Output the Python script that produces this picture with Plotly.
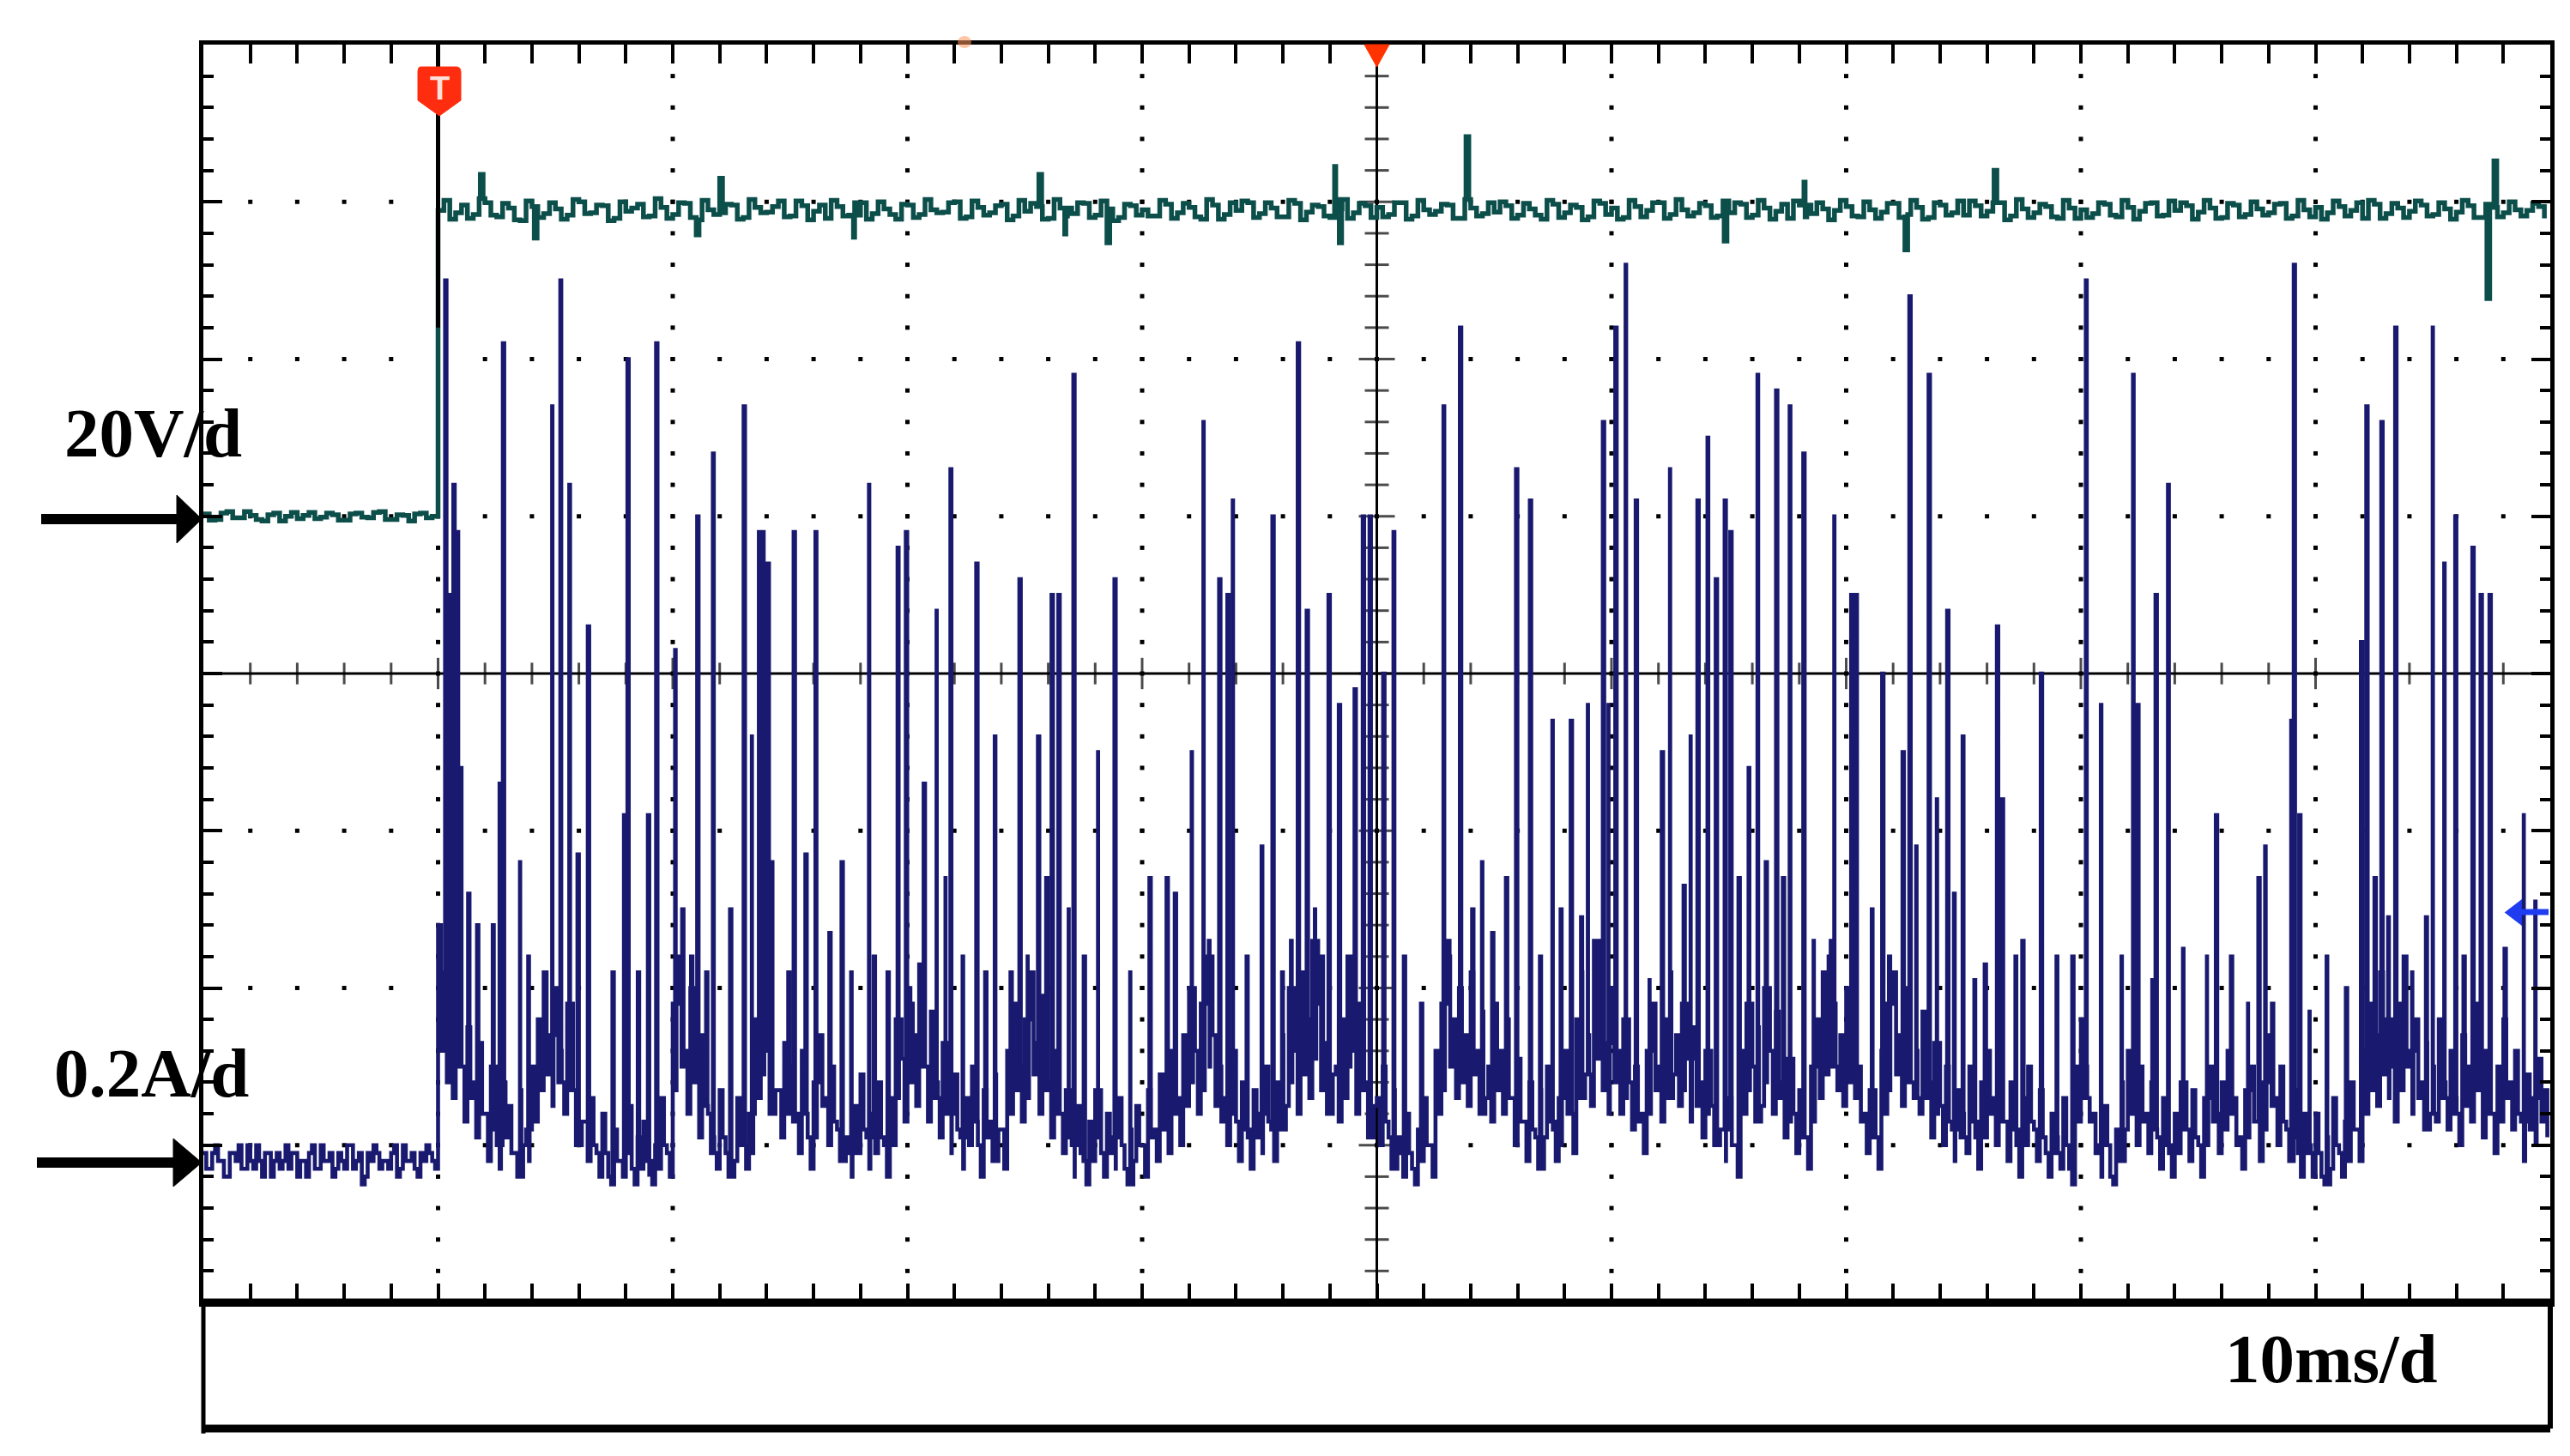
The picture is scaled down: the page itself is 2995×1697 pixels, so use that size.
import plotly.graph_objects as go

# ---------------- scope settings ----------------
T_START, T_END = -10.0, 90.0          # ms (trigger at 0)
MS_PER_DIV = 10
V_PER_DIV = 20
A_PER_DIV = 0.2
V_GROUND_DIV = 1.0
A_GROUND_DIV = -3.1
CUR_STEP_MS = 0.25      # spacing of each typed current list (second list offset by half a step)
VOLT_STEP_MS = 0.5
SPIKE_W_MS = 0.06

# ---------------- data ----------------
# current samples, units of 0.01 A, before trigger (-10..0 ms)
cur_pre_cA = [1, -1, 2, 0, -2, 1, 2, -1, 0, 2, -2, 1, 0, -1, 2, 1, -2, 0, 1, -1,
              2, 0, -2, 1, -1, 2, 0, -3, 1, 2, -1, 0, 1, -2, 2, 0, -1, 1, 2, 0]
cur_pre_mid_cA = [-1, 1, 0, -2, 1, 0, -1, 2, -1, 0, 1, -2, 1, 0, -1, 1, 0, -2, 2, -1,
                  0, 1, -1, 0, 2, -1, 1, -2, 0, 1, 0, -1, 2, -1, 0, 1, -2, 0, 1, -1]
# current samples after trigger (0..90 ms), units of 0.01 A
cur_post_cA = [
    30, 24, 18, 26, 12, 17, 10, 15, 6, 12, 2, 10, 7, 1, 9, 4, 12, 18, 24, 16,
    22, 14, 20, 9, 13, 5, 8, 1, 6, -2, 4, 0, 7, -1, 3, 5, -2, 2, 8, 1,
    20, 26, 14, 22, 10, 16, 6, 3, 9, 1, 5, 8, 2, 6, 18, 24, 14, 20, 9, 15,
    12, 6, 14, 3, 10, 16, 8, 12, 4, 9, 1, 7, 11, 3, 6, 10, 2, 8, 18, 13,
    22, 16, 25, 12, 19, 10, 15, 6, 11, 3, 8, 12, 2, 9, 5, 11, 4, 14, 20, 12,
    18, 24, 15, 21, 10, 14, 6, 9, 2, 7, 0, 5, 9, 1, 6, 3, 8, -1, 4, 7,
    2, 9, 4, 11, 6, 14, 8, 16, 22, 14, 20, 26, 16, 12, 8, 14, 5, 10, 3, 9,
    6, 12, 4, 10, 16, 22, 14, 24, 18, 28, 20, 15, 24, 12, 18, 26, 14, 20, 10, 16,
    8, 12, 3, 9, 1, 6, -1, 4, 8, 2, 14, 20, 26, 18, 22, 16, 24, 14, 19, 12,
    20, 14, 18, 8, 13, 5, 10, 3, 9, 12, 4, 8, 14, 6, 18, 24, 16, 28, 20, 15,
    22, 14, 18, 10, 12, 6, 14, 20, 12, 18, 24, 16, 20, 13, 17, 10, 14, 7, 11, 4,
    8, 2, 14, 20, 12, 17, 22, 14, 19, 10, 13, 6, 9, 3, 12, 18, 24, 26, 20, 16,
    22, 18, 12, 6, 9, 3, 14, 20, 24, 16, 22, 18, 14, 19, 10, 15, 7, 12, 4, 9,
    6, 12, 3, 10, 14, 8, 13, 5, 10, 2, 8, 12, 4, 9, 1, 6, 3, 8, -1, 12,
    18, 12, 6, 2, 7, -2, 4, 10, 14, 8, 12, 6, 10, 3, 8, 1, 6, 10, 4, 9,
    2, 8, 12, 6, 10, 14, 8, 3, 9, 12, 5, 10, 16, 8, 12, 4, 9, 1, 6, 2,
    6, -2, 3, 8, 1, 5, 10, 4, 14, 20, 16, 24, 18, 12, 20, 26, 14, 18, 10, 15,
    12, 18, 10, 14, 8, 16, 12, 20, 9, 14, 6, 12, 18, 10, 14, 5, 11, 8, 13, 9,
]
cur_post_mid_cA = [
    14, 10, 8, 12, 5, 8, 3, 6, 0, 4, -1, 3, 1, -2, 2, 0, 5, 9, 11, 7,
    10, 6, 9, 2, 5, 0, 2, -2, 1, -3, 0, -2, 1, -3, -1, 0, -3, -1, 2, -2,
    9, 12, 6, 10, 3, 7, 1, -1, 3, -2, 0, 2, -1, 1, 8, 11, 6, 9, 3, 6,
    5, 1, 6, -1, 3, 7, 2, 5, 0, 3, -2, 1, 4, -1, 1, 3, -2, 2, 8, 5,
    10, 7, 12, 5, 8, 3, 6, 1, 4, -1, 2, 5, -2, 3, 0, 4, -1, 6, 9, 5,
    8, 11, 6, 9, 3, 6, 1, 3, -2, 1, -3, 0, 3, -2, 1, -1, 2, -3, 0, 2,
    -2, 3, 0, 4, 1, 6, 2, 7, 10, 6, 9, 12, 7, 5, 2, 6, 0, 4, -1, 3,
    1, 5, 0, 4, 7, 10, 6, 11, 8, 13, 9, 6, 11, 5, 8, 12, 6, 9, 3, 7,
    2, 5, -1, 3, -2, 1, -3, 0, 2, -2, 6, 9, 12, 8, 10, 7, 11, 6, 8, 5,
    9, 6, 8, 2, 5, 0, 4, -1, 3, 5, 0, 2, 6, 1, 8, 11, 7, 13, 9, 6,
    10, 6, 8, 4, 5, 1, 6, 9, 5, 8, 11, 7, 9, 5, 7, 3, 6, 2, 4, 0,
    2, -2, 6, 9, 5, 7, 10, 6, 8, 3, 5, 1, 3, -1, 5, 8, 11, 12, 9, 7,
    10, 8, 5, 1, 3, -1, 6, 9, 11, 7, 10, 8, 6, 8, 3, 6, 2, 5, 0, 3,
    1, 5, -1, 3, 6, 2, 5, 0, 4, -2, 2, 5, 0, 3, -2, 1, -1, 2, -3, 5,
    8, 5, 1, -2, 2, -3, 0, 4, 6, 2, 5, 1, 4, -1, 2, -2, 1, 4, 0, 3,
    -2, 2, 5, 1, 4, 6, 2, -1, 3, 5, 0, 4, 7, 2, 5, 0, 3, -2, 1, -2,
    1, -3, -1, 2, -2, 0, 4, 0, 6, 9, 7, 11, 8, 5, 9, 12, 6, 8, 4, 6,
    5, 8, 4, 6, 2, 7, 5, 9, 3, 6, 1, 5, 8, 4, 6, 0, 4, 2, 5, 3,
]
# current spikes: time (ms) and peak (A)
spike_t_ms = [
    0.3, 0.5, 0.65, 0.8, 0.95, 1.28, 1.66, 2.33, 2.62, 2.76, 3.49, 3.84, 4.86, 5.21, 5.59,
    5.94, 6.38, 7.43, 7.92, 8.07, 8.51, 8.94, 9.29, 10.1, 10.4, 10.78, 11.04, 11.42, 11.71,
    12.44, 13.02, 13.37, 13.67, 13.84, 14.04, 14.19, 14.92, 15.15, 15.65, 16.08, 16.67,
    17.19, 17.6, 18.36, 18.56, 19.15, 19.58, 19.93, 20.17, 20.69, 21.24, 21.62, 21.83,
    22.35, 22.93, 23.31, 23.72, 24.39, 24.77, 25.12, 25.56, 25.91, 26.14, 26.43, 26.87,
    27.07, 27.51, 28.12, 28.82, 29.49, 30.31, 31.04, 31.39, 32.11, 32.61, 32.84, 33.28,
    33.63, 33.86, 34.45, 35.09, 35.55, 35.96, 36.34, 36.63, 37.01, 37.36, 37.65, 37.94,
    38.38, 38.82, 39.05, 39.4, 39.69, 40.27, 40.71, 41.15, 41.88, 42.84, 43.04, 43.54,
    44.06, 44.48, 44.91, 45.5, 45.93, 46.52, 46.95, 47.48, 47.83, 48.26, 48.7, 48.99,
    49.43, 49.63, 49.87, 50.16, 50.6, 51.03, 51.62, 52.14, 52.49, 53.07, 53.37, 53.66,
    54.09, 54.44, 54.82, 55.06, 55.41, 55.84, 56.22, 56.57, 57.01, 57.3, 57.59, 58.17,
    58.61, 59.34, 59.49, 60.21, 60.4, 61.09, 61.53, 61.82, 62.4, 62.69, 62.98, 63.51,
    63.86, 64.3, 64.59, 64.96, 65.46, 65.9, 66.42, 66.63, 67.21, 67.5, 68.29, 68.96,
    69.63, 70.21, 70.85, 71.73, 72.22, 72.4, 73.04, 73.18, 73.71, 74.35, 75.37, 75.75,
    76.39, 77.12, 77.56, 77.85, 78.14, 78.96, 79.07, 79.3, 79.74, 80.47, 81.29, 81.93,
    82.16, 82.51, 82.8, 83.09, 83.39, 84.11, 84.7, 84.99, 85.48, 85.95, 86.3, 86.68,
    87.03, 87.41, 88.05, 88.87, 89.36,
]
spike_a = [
    1.12, 0.72, 0.86, 0.80, 0.50, 0.34, 0.30, 0.30, 0.48, 1.04, 0.38, 0.26, 0.96, 1.12, 0.86,
    0.39, 0.68, 0.24, 0.44, 1.02, 0.24, 0.44, 1.04, 0.65, 0.32, 0.26, 0.82, 0.24, 0.90,
    0.32, 0.96, 0.54, 0.80, 0.80, 0.76, 0.38, 0.24, 0.80, 0.39, 0.80, 0.29,
    0.38, 0.24, 0.86, 0.26, 0.24, 0.78, 0.80, 0.20, 0.48, 0.70, 0.36, 0.88,
    0.26, 0.76, 0.24, 0.54, 0.24, 0.74, 0.26, 0.54, 0.36, 0.72, 0.72, 0.32,
    1.00, 0.26, 0.52, 0.74, 0.24, 0.36, 0.36, 0.34, 0.52, 0.94, 0.28, 0.74,
    0.72, 0.84, 0.26, 0.40, 0.82, 0.24, 0.28, 1.04, 0.70, 0.32, 0.26, 0.72,
    0.58, 0.23, 0.60, 0.82, 0.82, 0.62, 0.80, 0.26, 0.20, 0.96, 0.28, 1.06,
    0.32, 0.38, 0.29, 0.36, 0.88, 0.84, 0.26, 0.56, 0.32, 0.56, 0.31, 0.58,
    0.28, 0.94, 0.58, 1.06, 1.14, 0.84, 0.23, 0.52, 0.88, 0.35, 0.54, 0.84,
    0.92, 0.74, 0.84, 0.80, 0.36, 0.50, 1.00, 0.38, 0.98, 0.36, 0.96, 0.90,
    0.28, 0.28, 0.82, 0.72, 0.72, 0.32, 0.62, 0.26, 0.52, 1.10, 0.40, 1.00,
    0.46, 0.70, 0.34, 0.54, 0.23, 0.25, 0.68, 0.46, 0.26, 0.28, 0.62, 0.26,
    0.26, 1.12, 0.58, 0.26, 1.00, 0.58, 0.23, 0.72, 0.86, 0.27, 0.26, 0.44,
    0.26, 0.20, 0.36, 0.40, 0.20, 0.56, 1.14, 0.44, 0.19, 0.26, 0.22, 0.66,
    0.96, 0.36, 0.94, 0.31, 1.06, 0.24, 0.31, 1.06, 0.76, 0.82, 0.26, 0.78,
    0.72, 0.72, 0.27, 0.44, 0.33,
]
# voltage samples (V), before trigger (-10..0 ms)
volt_pre_v = [0.3, -0.4, 0.6, -0.2, 0.1, -0.6, 0.4, 0.0, -0.3, 0.5,
              -0.1, 0.2, -0.5, 0.4, -0.2, 0.6, -0.4, 0.1, 0.3, -0.2]
volt_pre_mid_v = [-0.5, 0.4, -0.2, 0.6, -0.4, 0.2, -0.6, 0.5, 0.1, -0.3,
                  0.4, -0.5, 0.3, -0.1, 0.5, -0.4, 0.2, -0.6, 0.4, 0.0]
# voltage samples after trigger (0..90 ms), V
volt_post_v = [
    38.9, 37.8, 39.6, 38.4, 39.9, 38.1, 39.2, 37.6, 39.4, 38.5,
    39.1, 38.3, 40.0, 38.6, 39.5, 37.9, 38.8, 39.7, 38.2, 39.3,
    38.4, 39.8, 37.7, 39.0, 38.6, 39.6, 38.0, 39.3, 38.7, 40.1,
    38.2, 39.5, 38.8, 37.9, 39.4, 38.3, 39.9, 38.5, 39.1, 37.8,
    39.6, 38.4, 39.0, 38.7, 40.0, 38.1, 39.3, 38.6, 39.7, 38.2,
    38.8, 39.4, 37.9, 39.2, 38.5, 39.8, 38.3, 39.1, 38.0, 39.5,
    39.0, 38.2, 39.7, 38.6, 39.3, 37.8, 39.6, 38.4, 38.9, 39.9,
    38.5, 39.2, 38.1, 39.8, 38.7, 39.4, 38.0, 39.1, 38.6, 39.5,
    39.3, 38.4, 39.9, 38.2, 39.0, 38.8, 39.6, 37.9, 39.2, 38.5,
    38.7, 39.5, 38.3, 39.1, 37.8, 39.7, 38.6, 39.3, 38.1, 39.8,
    39.2, 38.0, 39.4, 38.9, 39.9, 38.4, 39.0, 38.6, 39.5, 38.2,
    38.6, 39.7, 38.3, 39.2, 38.8, 37.9, 39.6, 38.5, 39.1, 38.9,
    39.4, 38.1, 39.0, 38.7, 39.8, 38.4, 39.3, 38.0, 39.6, 38.6,
    38.3, 39.5, 38.8, 39.9, 38.2, 39.1, 38.6, 39.4, 37.9, 39.2,
    39.0, 38.5, 39.7, 38.1, 39.3, 38.8, 39.9, 38.3, 38.9, 39.5,
    38.7, 39.2, 38.0, 39.6, 38.4, 39.1, 38.6, 39.8, 38.2, 39.0,
    39.3, 38.6, 39.4, 38.9, 37.9, 39.7, 38.5, 39.2, 38.8, 39.6,
    38.4, 39.1, 38.7, 39.5, 38.0, 39.3, 38.6, 39.0, 38.9, 39.4,
]
volt_post_mid_v = [
    40.2, 38.6, 37.9, 40.4, 38.3, 39.8, 37.7, 40.1, 38.0, 39.9,
    37.8, 40.3, 38.5, 39.6, 37.6, 40.0, 39.2, 38.1, 40.4, 37.9,
    39.9, 38.0, 40.2, 38.4, 39.7, 37.8, 40.3, 38.6, 39.4, 38.1,
    40.1, 37.7, 39.6, 40.2, 38.2, 39.9, 37.8, 40.0, 38.4, 39.7,
    38.0, 40.3, 38.6, 39.9, 37.9, 40.1, 38.3, 39.5, 37.7, 40.2,
    39.8, 37.8, 40.3, 38.2, 39.9, 38.0, 40.1, 37.6, 39.7, 38.3,
    38.2, 40.2, 37.9, 39.8, 38.1, 40.3, 37.8, 39.9, 40.1, 38.0,
    39.9, 38.1, 40.2, 37.7, 39.6, 38.2, 40.3, 37.9, 39.8, 38.0,
    38.1, 39.9, 37.8, 40.2, 38.4, 39.7, 37.9, 40.3, 38.2, 39.9,
    40.0, 37.9, 39.8, 38.3, 40.2, 38.0, 39.6, 37.7, 40.1, 38.4,
    37.8, 40.2, 38.1, 39.9, 37.9, 40.3, 38.2, 39.8, 38.0, 40.1,
    39.9, 38.0, 40.2, 37.8, 39.7, 40.1, 38.1, 39.9, 37.7, 40.2,
    38.2, 40.0, 37.9, 39.8, 38.0, 40.2, 37.8, 39.9, 38.3, 40.1,
    40.1, 38.2, 39.9, 37.7, 40.3, 38.0, 39.7, 38.1, 40.2, 37.9,
    38.0, 39.9, 38.3, 40.2, 37.8, 39.8, 38.2, 40.1, 39.9, 37.8,
    40.2, 37.9, 39.8, 38.1, 40.0, 38.3, 39.7, 37.9, 40.2, 38.1,
    37.8, 40.1, 38.2, 39.9, 40.2, 37.9, 39.8, 38.0, 40.1, 38.2,
    39.9, 37.8, 40.2, 38.0, 39.7, 38.1, 40.0, 38.2, 39.8, 37.9,
]
vspike_t_ms = [1.8, 4.1, 11.0, 12.0, 17.7, 25.6, 26.7, 28.5, 38.2, 38.4, 43.8,
               54.8, 58.2, 62.5, 66.3, 87.3, 87.6]
vspike_v = [43.5, 35.4, 35.8, 43.0, 35.5, 43.5, 35.9, 34.8, 44.5, 34.8, 48.3,
            35.0, 42.5, 33.9, 44.0, 27.7, 45.2]

label_volt = "20V/d"
label_amp = "0.2A/d"
label_time = "10ms/d"
trig_level_t_ms, trig_level_div = 88.6, -1.52

# ---------------- build traces ----------------
def interleave(a, b):
    out = []
    for u, v in zip(a, b):
        out.extend([u, v])
    return out

def build(base_vals, start, step, sp_t, sp_v, width):
    pts = [(start + i * step, v) for i, v in enumerate(base_vals)]
    for t, v in zip(sp_t, sp_v):
        k = int((t - start) // step)
        k = max(0, min(k, len(base_vals) - 1))
        pts.append((t, v))
        pts.append((t + width, base_vals[k]))
    pts.sort(key=lambda p: p[0])
    return [p[0] for p in pts], [p[1] for p in pts]

cur_base = [v * 0.01 for v in interleave(cur_pre_cA + cur_post_cA, cur_pre_mid_cA + cur_post_mid_cA)]
cx, cy = build(cur_base, T_START, CUR_STEP_MS / 2, spike_t_ms, spike_a, SPIKE_W_MS)
volt_base = interleave(volt_pre_v + volt_post_v, volt_pre_mid_v + volt_post_mid_v)
vx, vy = build(volt_base, T_START, VOLT_STEP_MS / 2, vspike_t_ms, vspike_v, 0.12)

W, H = 2995, 1697
L, R, TOP, BOT = 229, 2964, 44, 1510
def px(x):
    return (x - L) / (R - L)
def py(y):
    return (BOT - y) / (BOT - TOP)

fig = go.Figure()

# graticule dots
gx, gy = [], []
for k in range(1, 10):
    if k == 5:
        continue
    t = T_START + k * MS_PER_DIV
    for j in range(1, 40):
        gx.append(t); gy.append(-4 + j * 0.2)
for d in (-3, -2, -1, 1, 2, 3):
    for j in range(1, 50):
        gx.append(T_START + j * 2); gy.append(d)
fig.add_trace(go.Scatter(x=gx, y=gy, mode="markers", hoverinfo="skip",
                         marker=dict(symbol="square", size=5, color="black")))

# center-cross ticks
tx = [T_START + j * 2 for j in range(1, 50)]
fig.add_trace(go.Scatter(x=tx, y=[0] * len(tx), mode="markers", hoverinfo="skip",
                         marker=dict(symbol="line-ns", size=[26 if j % 5 == 0 else 18 for j in range(1, 50)],
                                     line=dict(width=3, color="black"))))
ty = [-4 + j * 0.2 for j in range(1, 40)]
fig.add_trace(go.Scatter(x=[40] * len(ty), y=ty, mode="markers", hoverinfo="skip",
                         marker=dict(symbol="line-ew", size=[30 if j % 5 == 0 else 20 for j in range(1, 40)],
                                     line=dict(width=3, color="black"))))

# voltage trace
fig.add_trace(go.Scatter(x=vx, y=vy, yaxis="y2", mode="lines", line_shape="hv",
                         line=dict(color="#0c4e4a", width=5.5), hoverinfo="skip"))
# current trace
fig.add_trace(go.Scatter(x=cx, y=cy, yaxis="y3", mode="lines", line_shape="hv",
                         line=dict(color="#19196f", width=4.6), hoverinfo="skip"))
# trigger level marker
fig.add_trace(go.Scatter(x=[trig_level_t_ms], y=[trig_level_div], mode="markers", hoverinfo="skip",
                         marker=dict(symbol="triangle-left", size=30, color="#1f3cf0")))

shapes = []
# center cross
shapes.append(dict(type="line", xref="x", yref="y", x0=40, x1=40, y0=-4, y1=4,
                   line=dict(color="black", width=3), layer="below"))
shapes.append(dict(type="line", xref="x", yref="y", x0=T_START, x1=T_END, y0=0, y1=0,
                   line=dict(color="black", width=3), layer="below"))
# trigger line
shapes.append(dict(type="line", xref="x", yref="y", x0=0, x1=0, y0=2.2, y1=4,
                   line=dict(color="black", width=5)))
# thick bottom border + lower box
shapes.append(dict(type="line", xref="paper", yref="paper", x0=0, x1=1, y0=0, y1=0,
                   line=dict(color="black", width=9)))
yb = py(1657)
shapes.append(dict(type="line", xref="paper", yref="paper", x0=0, x1=1, y0=yb, y1=yb,
                   line=dict(color="black", width=9)))
shapes.append(dict(type="line", xref="paper", yref="paper", x0=0, x1=0, y0=yb - 0.004, y1=0,
                   line=dict(color="black", width=5)))
shapes.append(dict(type="line", xref="paper", yref="paper", x0=1, x1=1, y0=yb, y1=0,
                   line=dict(color="black", width=6)))
# arrows
for yy, x0, xh in ((597, 40, 198), (1347, 35, 194)):
    shapes.append(dict(type="line", xref="paper", yref="paper", x0=px(x0), x1=px(xh + 5),
                       y0=py(yy), y1=py(yy), line=dict(color="black", width=12)))
    shapes.append(dict(type="path", xref="paper", yref="paper",
                       path=f"M {px(xh)},{py(yy - 28)} L {px(227)},{py(yy)} L {px(xh)},{py(yy + 28)} Z",
                       fillcolor="black", line=dict(color="black", width=1)))
# trigger "T" marker (shield)
shapes.append(dict(type="path", xref="paper", yref="paper",
                   path=(f"M {px(482)},{py(70)} L {px(524)},{py(70)} Q {px(529)},{py(70)} {px(529)},{py(76)} "
                         f"L {px(529)},{py(109)} L {px(504)},{py(127)} L {px(479)},{py(109)} "
                         f"L {px(479)},{py(76)} Q {px(479)},{py(70)} {px(482)},{py(70)} Z"),
                   fillcolor="#ff2d0f", line=dict(color="#ff2d0f", width=1)))
# center time marker (triangle)
shapes.append(dict(type="path", xref="paper", yref="paper",
                   path=f"M {px(1582)},{py(44)} L {px(1611)},{py(44)} L {px(1596.5)},{py(70)} Z",
                   fillcolor="#ff3300", line=dict(color="#ff3300", width=1)))
shapes.append(dict(type="circle", xref="paper", yref="paper", x0=px(1108), x1=px(1124),
                   y0=py(48), y1=py(34), fillcolor="rgba(255,150,90,0.55)", line=dict(width=0)))
# trigger-level marker tail
shapes.append(dict(type="line", xref="paper", yref="paper", x0=px(2930), x1=px(2962),
                   y0=py(1055), y1=py(1055), line=dict(color="#1f3cf0", width=7)))

font_lbl = dict(family="Liberation Serif", size=81, color="black", weight="bold")
annotations = [
    dict(text=label_volt, xref="paper", yref="paper", x=px(170), y=py(497), showarrow=False,
         xanchor="center", yanchor="middle", font=font_lbl),
    dict(text=label_amp, xref="paper", yref="paper", x=px(168), y=py(1243), showarrow=False,
         xanchor="center", yanchor="middle", font=font_lbl),
    dict(text=label_time, xref="paper", yref="paper", x=px(2709), y=py(1576), showarrow=False,
         xanchor="center", yanchor="middle", font=font_lbl),
    dict(text="T", xref="paper", yref="paper", x=px(504), y=py(95), showarrow=False,
         xanchor="center", yanchor="middle",
         font=dict(family="Liberation Sans", size=38, color="#ffe0d8", weight="bold")),
]

axis_common = dict(showgrid=False, zeroline=False, showline=True, linecolor="black", linewidth=5,
                   mirror="allticks", ticks="inside", tickcolor="black", tickwidth=4,
                   showticklabels=False, fixedrange=True)

fig.update_layout(
    width=W, height=H,
    margin=dict(l=L, r=W - R, t=TOP, b=H - BOT, pad=0, autoexpand=False),
    paper_bgcolor="white", plot_bgcolor="white", showlegend=False,
    xaxis=dict(range=[T_START, T_END], tickmode="linear", tick0=0, dtick=MS_PER_DIV, ticklen=22,
               minor=dict(ticks="inside", tickmode="linear", tick0=0, dtick=MS_PER_DIV / 5,
                          ticklen=12, tickwidth=4, tickcolor="black", showgrid=False),
               **axis_common),
    yaxis=dict(range=[-4, 4], tickmode="linear", tick0=0, dtick=1, ticklen=22,
               minor=dict(ticks="inside", tickmode="linear", tick0=0, dtick=0.2,
                          ticklen=12, tickwidth=4, tickcolor="black", showgrid=False),
               **axis_common),
    yaxis2=dict(overlaying="y", visible=False, fixedrange=True,
                range=[(-4 - V_GROUND_DIV) * V_PER_DIV, (4 - V_GROUND_DIV) * V_PER_DIV]),
    yaxis3=dict(overlaying="y", visible=False, fixedrange=True,
                range=[(-4 - A_GROUND_DIV) * A_PER_DIV, (4 - A_GROUND_DIV) * A_PER_DIV]),
    shapes=shapes, annotations=annotations,
)

fig.write_html("out.html")
